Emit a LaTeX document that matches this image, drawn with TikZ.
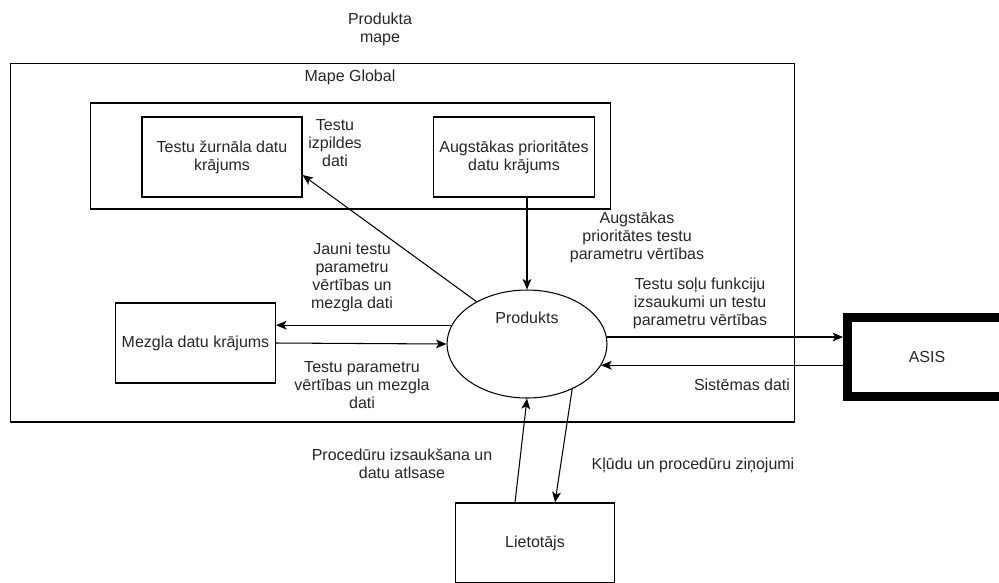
\documentclass[tikz,border=0pt]{standalone}
\usepackage{fontspec}
\setmainfont{Liberation Sans}
\usepackage{tikz}
\usetikzlibrary{%
  shapes.geometric,%
  calc,%
  arrows.meta%
}

\tikzset{
  store/.style={draw,minimum width=3.2cm,minimum height=1.6cm,align=center},
  flow/.style={->},
  lbl/.style={align=center}
}

\begin{document}
\begin{tikzpicture}[x=0.02cm,y=-0.02cm,line width=0.6pt,
  >={Stealth[length=6pt,width=5pt,inset=1.5pt]},
  every node/.style={font=\fontsize{9.1}{10.25}\selectfont,text=black!85}]
\useasboundingbox (0,0) rectangle (999,582);

\node[lbl] (mapetxt) at (380,29) {Produkta\\mape};
\node[draw,minimum width=15.7cm,minimum height=7.18cm] (global) at (402.5,242.5) {};
\node (globaltxt) at (350,77) {Mape Global};
\node[draw,minimum width=10.42cm,minimum height=2.12cm] (inner) at (350.5,156) {};

\node[store] (zur) at (222,157) {Testu žurnāla datu\\krājums};
\node[store] (aug) at (514,157) {Augstākas prioritātes\\datu krājums};
\node[store] (mez) at (195.5,343) {Mezgla datu krājums};
\node[draw,ellipse,minimum width=3.2cm,minimum height=2.16cm,
  label={[yshift=0.52cm]center:Produkts}] (prod) at (527,344) {};
\node[draw,line width=5pt,minimum width=3.18cm,minimum height=1.57cm] (asis) at (927,357) {ASIS};
\node[store,minimum width=3.18cm] (user) at (535,543) {Lietotājs};

\draw[flow] (prod.140) -- ([yshift=-0.36cm]zur.east);
\draw[flow] (aug.south -| prod.north) -- (prod.north);
\draw[flow] (prod.166) -- (prod.166 -| mez.east);
\draw[flow] (mez.east) -- (prod.west);
\draw[flow] (prod.5) -- (prod.5 -| asis.west);
\draw[flow] (asis.west |- prod.-16) -- (prod.-16);
\draw[flow] ([xshift=-0.4cm]user.north) -- (prod.south);
\draw[flow] (prod.-45) -- ([xshift=0.4cm]user.north);

\node[lbl] (zurtxt) at (335,143) {Testu\\izpildes\\dati};
\node[lbl] (augtxt) at (637,237) {Augstākas\\prioritātes testu\\parametru vērtības};
\node[lbl] (jaunitxt) at (352,277) {Jauni testu\\parametru\\vērtības un\\mezgla dati};
\node[lbl] (meztxt) at (362,385) {Testu parametru\\vērtības un mezgla\\dati};
\node[lbl] (asistxt) at (700,303) {Testu soļu funkciju\\izsaukumi un testu\\parametru vērtības};
\node (sistxt) at (742,385) {Sistēmas dati};
\node[lbl] (proctxt) at (402,464) {Procedūru izsaukšana un\\datu atlsase};
\node (kludtxt) at (693,465) {Kļūdu un procedūru ziņojumi};

\end{tikzpicture}
\end{document}
